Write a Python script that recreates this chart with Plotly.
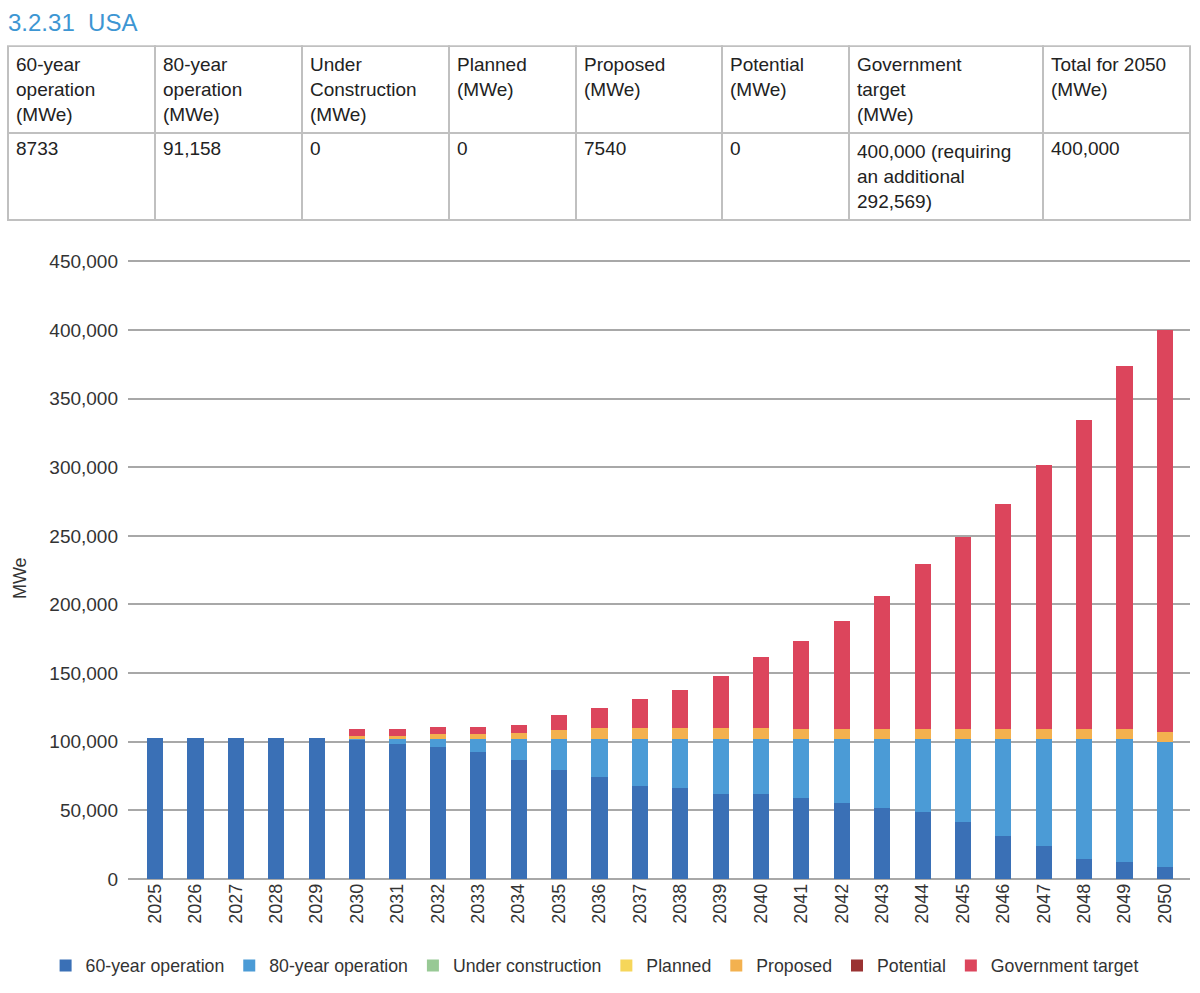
import plotly.graph_objects as go

# years on the x axis
years = list(range(2025, 2051))

# MWe per category
op60 = [102400, 102400, 102400, 102400, 102400, 101200, 98300, 96400, 92300, 86900,
        79100, 74300, 67500, 66000, 61700, 61700, 59200, 55100, 51600, 48700,
        41400, 31700, 24200, 14300, 12300, 8733]
op80 = [0, 0, 0, 0, 0, 800, 3600, 5500, 9600, 15000,
        22800, 27600, 34400, 35900, 40200, 40200, 42700, 46800, 50300, 53200,
        60500, 70200, 77700, 87600, 89600, 91158]
under_construction = [0] * 26
planned = [0] * 26
proposed = [0, 0, 0, 0, 0, 2300, 2500, 4100, 4100, 4800,
            6800, 7800, 7800, 7800, 7800, 7800, 7500, 7500, 7500, 7500,
            7500, 7500, 7500, 7500, 7500, 7540]
potential = [0] * 26
gov_target = [0, 0, 0, 0, 0, 5000, 5000, 4600, 4600, 5300,
              10500, 14600, 21100, 27900, 37900, 52000, 63900, 78700, 96700, 120000,
              140100, 164100, 192300, 225300, 264100, 292569]

series_names = ["60-year operation", "80-year operation", "Under construction",
                "Planned", "Proposed", "Potential", "Government target"]
series_values = [op60, op80, under_construction, planned, proposed, potential, gov_target]
series_colors = ["#3a70b6", "#4b9bd6", "#98c995", "#f6d65a", "#f3b14f", "#9a3232", "#dc455c"]

# summary table
table_header = ["60-year<br>operation<br>(MWe)", "80-year<br>operation<br>(MWe)",
                "Under<br>Construction<br>(MWe)", "Planned<br>(MWe)", "Proposed<br>(MWe)",
                "Potential<br>(MWe)", "Government<br>target<br>(MWe)", "Total for 2050<br>(MWe)"]
table_row = ["8733", "91,158", "0", "0", "7540", "0",
             "400,000 (requiring<br>an additional<br>292,569)", "400,000"]

W, H = 1200, 993
OFF, K = 8.8, 0.98  # how figure rows land on the page


def py(s):
    # page pixel row -> paper y
    return 1 - (s - OFF) / K / H


font = "Liberation Sans, Arial, sans-serif"

fig = go.Figure()

fig.add_trace(go.Table(
    domain=dict(x=[8 / W, 1190 / W], y=[py(224), py(46)]),
    columnwidth=[147, 147, 147, 127, 146, 127, 194, 147],
    header=dict(values=table_header, align="left", height=87,
                font=dict(family=font, size=19, color="#222"),
                fill_color="white", line=dict(color="#c0c0c0", width=1.5)),
    cells=dict(values=[[v] for v in table_row], align="left", height=87,
               font=dict(family=font, size=19, color="#222"),
               fill_color="white", line=dict(color="#c0c0c0", width=1.5)),
))

for name, vals, col in zip(series_names, series_values, series_colors):
    fig.add_trace(go.Bar(x=years, y=vals, name=name, marker_color=col,
                         marker_line_width=0))

fig.update_layout(
    width=W, height=H,
    margin=dict(l=0, r=0, t=0, b=0),
    paper_bgcolor="white", plot_bgcolor="white",
    barmode="stack", bargap=0.6,
    font=dict(family=font, size=18, color="#333"),
    xaxis=dict(domain=[128 / W, 1190 / W], range=[2024.33, 2050.62],
               tickmode="linear", dtick=1, tickangle=-90, showgrid=False,
               zeroline=False, showline=False, ticks="",
               tickfont=dict(size=18, color="#333")),
    yaxis=dict(domain=[py(879), py(260)], range=[0, 450800],
               tickvals=[0, 50000, 100000, 150000, 200000, 250000, 300000, 350000, 400000, 450000],
               tickformat=",", gridcolor="#a8a8a8", gridwidth=1.5,
               zeroline=True, zerolinecolor="#a8a8a8", zerolinewidth=1.5,
               showline=False, ticks="", ticklabelstandoff=9,
               tickfont=dict(size=19, color="#333")),
    legend=dict(orientation="h", x=0.038, y=py(966), yanchor="middle",
                xanchor="left", font=dict(size=17.7, color="#333"),
                traceorder="normal", itemwidth=30),
    showlegend=True,
)

fig.add_annotation(text="3.2.31  USA", x=6 / W, y=py(22), xref="paper", yref="paper",
                   xanchor="left", yanchor="middle", showarrow=False,
                   font=dict(family=font, size=24, color="#3d96d3"))
fig.add_annotation(text="MWe", x=20 / W, y=py(578), xref="paper", yref="paper",
                   textangle=-90, showarrow=False, xanchor="center", yanchor="middle",
                   font=dict(family=font, size=18, color="#333"))

fig.write_html("out.html", config={"displayModeBar": False},
               post_script="document.body.style.margin='0';")
